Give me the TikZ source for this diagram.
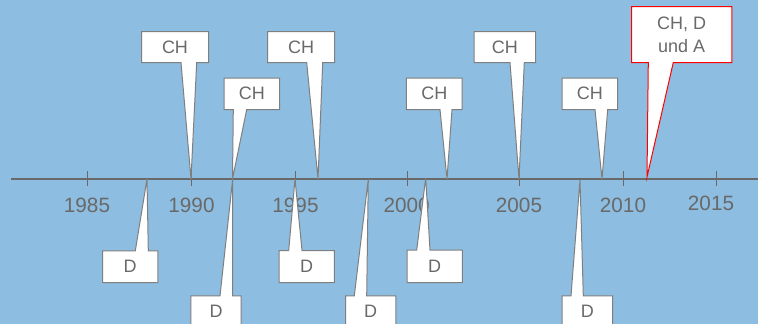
\documentclass[tikz,border=0pt]{standalone}
\usepackage{fontspec}
\setmainfont{Liberation Sans}

\definecolor{sky}{HTML}{8DBDE0}
\definecolor{ink}{HTML}{696969}
\definecolor{rim}{HTML}{7F7F7F}
\definecolor{alert}{HTML}{FF0000}

\tikzset{
  axisline/.style={draw=ink, line width=1.4pt},
  tickmark/.style={draw=ink, line width=1pt},
  yearlabel/.style={text=ink, font=\fontsize{20.7}{24}\selectfont, inner sep=0pt},
  greycallout/.style={fill=white, draw=rim, line width=1pt},
  redcallout/.style={fill=white, draw=alert, line width=1pt},
  callouttext/.style={text=ink, font=\fontsize{18}{23}\selectfont, align=center, inner sep=0pt},
}

% Callout with its tail on the lower edge:
% #1 name, #2 centre, #3 width, #4 height, #5/#6 tail base x, #7 tip, #8 text, #9 style
\newcommand\upcallout[9]{%
  \node[inner sep=0pt, minimum width=#3pt, minimum height=#4pt] (#1) at #2 {};
  \coordinate (#1-tip) at #7;
  \path[#9] (#1.north west) -- (#1.north east) -- (#1.south east)
    -- (#6,0 |- #1.south) -- (#1-tip) -- (#5,0 |- #1.south)
    -- (#1.south west) -- cycle;
  \node[callouttext] (#1-label) at (#1.center) {#8};
}
% Callout with its tail on the upper edge
\newcommand\downcallout[9]{%
  \node[inner sep=0pt, minimum width=#3pt, minimum height=#4pt] (#1) at #2 {};
  \coordinate (#1-tip) at #7;
  \path[#9] (#1.north west) -- (#5,0 |- #1.north) -- (#1-tip)
    -- (#6,0 |- #1.north) -- (#1.north east) -- (#1.south east)
    -- (#1.south west) -- cycle;
  \node[callouttext] (#1-label) at (#1.center) {#8};
}

\begin{document}
\begin{tikzpicture}[x=1pt, y=-1pt]
  \useasboundingbox (0,0) rectangle (758,324);
  \fill[sky] (0,0) rectangle (758,324);

  % time axis
  \coordinate (axisL) at (11,179);
  \coordinate (axisR) at (758,179);
  \draw[axisline] (axisL) -- (axisR);

  % ticks
  \foreach \yr/\x in {1985/87,1990/191,1995/295,2000/407,2005/519,2010/623,2015/716}{
    \coordinate (tick\yr-top) at (\x,171);
    \coordinate (tick\yr-bot) at (\x,186);
    \draw[tickmark] (tick\yr-top) -- (tick\yr-bot);
  }

  % year labels
  \foreach \yr/\x/\y in {1985/87/205,1990/191.5/205,1995/295.5/205,2000/406.7/205,2005/519/205,2010/623/205.5,2015/711/203}{
    \node[yearlabel] (year\yr) at (\x,\y) {\yr};
  }

  % callouts above the axis (CH)
  \upcallout{ch1}{(175,47)}{66.6}{30.6}{181}{196.7}{(191,179)}{CH}{greycallout}
  \upcallout{ch2}{(251.8,93.8)}{55}{31}{233.3}{246.7}{(232.5,179)}{CH}{greycallout}
  \upcallout{ch3}{(301,47)}{66.6}{30.6}{306.7}{322.7}{(318,179)}{CH}{greycallout}
  \upcallout{ch4}{(434.3,93.8)}{55.3}{31}{440}{452}{(447,179)}{CH}{greycallout}
  \upcallout{ch5}{(504.8,47)}{61}{30.6}{510}{524.3}{(519,179)}{CH}{greycallout}
  \upcallout{ch6}{(589.8,93.8)}{55}{31}{595}{607.7}{(602,179)}{CH}{greycallout}
  \upcallout{chda}{(681.7,34.5)}{100}{55.6}{648.3}{673.3}{(647,177)}{CH, D\\und A}{redcallout}

  % callouts below the axis (D)
  \downcallout{d1}{(130.2,266.7)}{55}{31.3}{135.3}{148.3}{(147,179)}{D}{greycallout}
  \downcallout{d2}{(216,311.5)}{50}{31}{220}{232.7}{(232.7,179)}{D}{greycallout}
  \downcallout{d3}{(306.7,266.5)}{54.7}{31.6}{288.7}{302}{(295,179)}{D}{greycallout}
  \downcallout{d4}{(370.7,311.5)}{50}{31}{354.3}{366.7}{(368.3,179)}{D}{greycallout}
  \downcallout{d5}{(434.7,266.3)}{54.7}{32}{416.7}{430}{(425.7,178)}{D}{greycallout}
  \downcallout{d6}{(587.3,311.5)}{50}{31}{571}{583.3}{(580,180)}{D}{greycallout}
\end{tikzpicture}
\end{document}
